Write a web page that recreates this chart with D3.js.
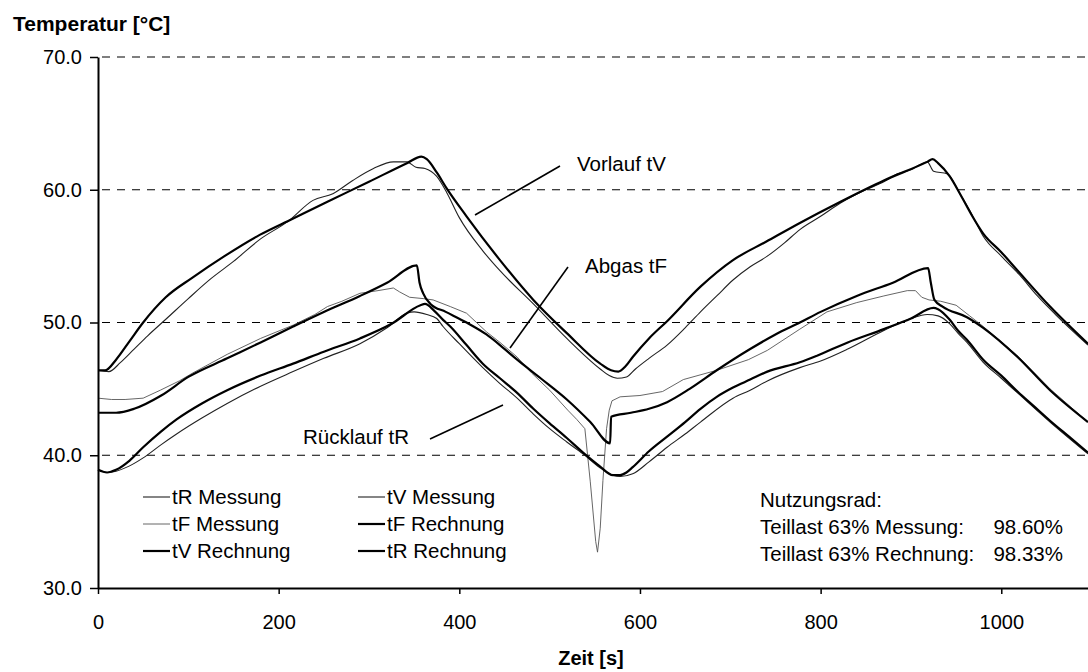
<!DOCTYPE html>
<meta charset="utf-8">
<style>
body { margin: 0; background: #fff; }
svg text { font-family: "Liberation Sans", Arial, sans-serif; fill: #000; }
.rech { fill: none; stroke: #000; stroke-width: 2.2px; stroke-linejoin: round; }
.mess { fill: none; stroke: #222; stroke-width: 1.1px; stroke-linejoin: round; }
.messF { fill: none; stroke: #555; stroke-width: 0.9px; stroke-linejoin: round; }
.grid { stroke: #000; stroke-width: 1.2px; stroke-dasharray: 8,7; }
</style>
<body>
<script src="https://cdnjs.cloudflare.com/ajax/libs/d3/7.8.5/d3.min.js"></script>
<script>
// axis ticks
var xTicks = [0, 200, 400, 600, 800, 1000];
var yTicks = [30, 40, 50, 60, 70];
var gridValues = [40, 50, 60, 70];

// [Zeit s, Temperatur °C]
var tvRechnung = [[0,46.4],[8,46.4],[20,47.2],[35,48.6],[50,50.0],[75,51.9],[105,53.4],[140,55.0],[179,56.6],[215,57.8],[254,59.1],[300,60.6],[342,62.0],[358,62.5],[364,62.3],[375,61.3],[386,60.1],[408,58.0],[445,54.7],[482,51.7],[519,49.2],[556,46.9],[568,46.4],[576,46.3],[584,46.7],[592,47.4],[610,48.8],[630,50.1],[667,52.7],[703,54.7],[740,56.1],[777,57.5],[822,59.1],[870,60.7],[918,62.1],[924,62.3],[930,62.0],[943,61.0],[955,59.6],[968,58.0],[980,56.7],[1000,55.3],[1017,54.0],[1054,51.2],[1096,48.4]];
var tvMessung = [[0,46.4],[12,46.3],[25,47.0],[40,48.0],[55,49.0],[76,50.3],[100,51.8],[125,53.3],[150,54.6],[180,56.3],[210,57.6],[238,59.2],[260,59.7],[282,60.7],[305,61.6],[327,62.1],[342,62.1],[352,61.7],[362,61.6],[375,61.0],[386,59.8],[400,57.9],[426,55.4],[445,53.9],[482,51.4],[519,48.8],[556,46.5],[566,46.0],[575,45.8],[585,45.9],[595,46.5],[610,47.3],[630,48.3],[650,49.6],[667,50.8],[685,52.0],[703,53.2],[722,54.2],[741,55.0],[760,56.0],[777,57.0],[800,58.0],[822,59.0],[850,60.0],[870,60.6],[885,61.2],[900,61.5],[910,61.9],[918,62.1],[925,61.4],[940,61.2],[955,59.6],[967,58.2],[980,56.5],[1000,55.0],[1020,53.6],[1040,52.0],[1060,50.6],[1096,48.3]];
var tfRechnung = [[0,43.2],[20,43.2],[40,43.5],[70,44.5],[100,45.9],[143,47.3],[180,48.5],[216,49.7],[250,50.8],[290,52.0],[320,53.0],[353,54.3],[356,53.0],[360,52.2],[368,51.4],[385,50.8],[408,50.0],[430,49.1],[445,48.3],[464,47.2],[490,45.8],[519,44.2],[545,42.5],[567,40.9],[568,42.9],[590,43.2],[610,43.5],[630,44.0],[655,45.0],[685,46.4],[722,48.0],[750,49.1],[777,50.0],[800,50.8],[840,52.0],[880,53.0],[919,54.1],[922,53.0],[926,51.7],[935,51.2],[962,50.4],[980,49.6],[1018,47.4],[1054,44.9],[1096,42.5]];
var tfMessung = [[0,44.3],[15,44.2],[30,44.2],[50,44.3],[69,44.9],[90,45.6],[105,46.2],[143,47.6],[180,48.8],[216,49.8],[240,50.6],[254,51.2],[270,51.6],[290,52.2],[310,52.4],[327,52.6],[334,52.3],[345,51.9],[360,51.8],[371,51.7],[390,51.2],[408,50.7],[430,49.3],[445,48.5],[464,47.4],[480,46.2],[500,44.9],[520,43.4],[530,42.7],[539,42.0],[545,38.0],[551,33.5],[553,32.7],[556,34.5],[559,38.1],[563,42.0],[566,43.4],[569,44.1],[578,44.4],[600,44.5],[625,44.8],[648,45.7],[685,46.4],[720,47.2],[741,47.9],[777,49.5],[807,50.8],[840,51.5],[870,52.0],[896,52.4],[905,52.4],[912,51.9],[920,51.7],[933,51.6],[950,51.3],[965,50.5],[980,49.7],[1018,47.5],[1054,45.0],[1096,42.5]];
var trRechnung = [[0,38.9],[10,38.7],[20,38.9],[35,39.6],[50,40.6],[70,41.8],[87,42.7],[115,43.9],[143,44.9],[180,46.0],[216,46.9],[250,47.8],[290,48.8],[325,49.9],[357,51.3],[362,51.4],[372,50.9],[382,50.2],[390,49.7],[408,48.3],[426,46.9],[445,45.8],[464,44.7],[482,43.5],[500,42.4],[519,41.3],[537,40.2],[555,39.2],[570,38.5],[578,38.5],[585,38.7],[592,39.1],[610,40.3],[630,41.4],[650,42.5],[667,43.5],[685,44.4],[703,45.1],[722,45.7],[741,46.3],[777,47.0],[796,47.5],[830,48.5],[870,49.5],[900,50.3],[925,51.1],[930,51.0],[943,50.2],[952,49.4],[962,48.7],[980,47.2],[1000,46.0],[1018,44.8],[1036,43.7],[1054,42.6],[1075,41.4],[1096,40.2]];
var trMessung = [[0,38.9],[10,38.7],[20,38.8],[35,39.2],[50,39.8],[70,40.8],[87,41.6],[115,42.8],[143,43.9],[180,45.2],[216,46.3],[250,47.3],[290,48.4],[320,49.6],[342,50.7],[350,50.8],[364,50.6],[375,50.3],[382,49.7],[400,48.4],[426,46.6],[445,45.4],[464,44.3],[482,43.1],[500,42.0],[519,41.0],[537,40.1],[555,39.1],[570,38.5],[578,38.4],[592,38.6],[610,39.5],[630,40.6],[650,41.6],[667,42.5],[703,44.3],[722,44.9],[741,45.6],[777,46.6],[800,47.1],[830,48.0],[870,49.4],[900,50.3],[918,50.6],[930,50.5],[943,49.9],[952,49.2],[962,48.5],[980,47.0],[1000,45.8],[1018,44.7],[1054,42.5],[1096,40.1]];

// legend entries: label, style class
var legendItems = [
  ["tR Messung", "mess"], ["tV Messung", "mess"],
  ["tF Messung", "messF"], ["tF Rechnung", "rech"],
  ["tV Rechnung", "rech"], ["tR Rechnung", "rech"]
];
var nutzLabels = ["Nutzungsrad:", "Teillast 63% Messung:", "Teillast 63% Rechnung:"];
var nutzValues = ["", "98.60%", "98.33%"];

var width = 1088, height = 672;
var svg = d3.select("body").append("svg")
    .attr("width", width)
    .attr("height", height);

var x = d3.scaleLinear().domain([0, 1096]).range([98, 1088]);
var y = d3.scaleLinear().domain([30, 70]).range([588, 57]);

// dashed grid lines
svg.selectAll(".grid")
    .data(gridValues)
  .enter().append("line")
    .attr("class", "grid")
    .attr("x1", x(0) + 4).attr("x2", width)
    .attr("y1", function(d) { return y(d); })
    .attr("y2", function(d) { return y(d); });

// curves
var line = d3.line()
    .x(function(d) { return x(d[0]); })
    .y(function(d) { return y(d[1]); });
var smooth = d3.line()
    .curve(d3.curveMonotoneX)
    .x(function(d) { return x(d[0]); })
    .y(function(d) { return y(d[1]); });

svg.append("path").datum(tfMessung).attr("class", "messF").attr("d", line);
svg.append("path").datum(trMessung).attr("class", "mess").attr("d", smooth);
svg.append("path").datum(tvMessung).attr("class", "mess").attr("d", smooth);
svg.append("path").datum(trRechnung).attr("class", "rech").attr("d", smooth);
svg.append("path").datum(tfRechnung).attr("class", "rech").attr("d", smooth);
svg.append("path").datum(tvRechnung).attr("class", "rech").attr("d", smooth);

// axes
var yAxis = svg.append("g")
    .attr("transform", "translate(" + x(0) + ",0)")
    .call(d3.axisLeft(y).tickValues(yTicks).tickFormat(d3.format(".1f"))
      .tickSize(8).tickPadding(8).tickSizeOuter(0));
var xAxis = svg.append("g")
    .attr("transform", "translate(0," + y(30) + ")")
    .call(d3.axisBottom(x).tickValues(xTicks).tickFormat(d3.format("d"))
      .tickSize(6).tickPadding(21).tickSizeOuter(0));
svg.selectAll(".domain").attr("stroke", "#000").attr("stroke-width", 2);
svg.selectAll(".tick line").attr("stroke", "#000").attr("stroke-width", 1.5);
svg.selectAll(".tick text").style("font-size", "20px")
    .style("font-family", "'Liberation Sans', Arial, sans-serif");

// axis titles
svg.append("text").attr("x", 13).attr("y", 31)
    .style("font-size", "21px").style("font-weight", "bold")
    .text("Temperatur [°C]");
svg.append("text").attr("x", 591).attr("y", 665)
    .attr("text-anchor", "middle")
    .style("font-size", "20px").style("font-weight", "bold")
    .text("Zeit [s]");

// annotations with leader lines
var notes = [
  {t: "Vorlauf tV", tx: 577, ty: 171, x1: 475, y1: 215, x2: 560, y2: 166},
  {t: "Abgas tF", tx: 585, ty: 273, x1: 510, y1: 348, x2: 568, y2: 267},
  {t: "Rücklauf tR", tx: 303, ty: 444, x1: 430, y1: 439, x2: 503, y2: 405}
];
notes.forEach(function(n) {
  svg.append("line").attr("x1", n.x1).attr("y1", n.y1).attr("x2", n.x2).attr("y2", n.y2)
      .attr("stroke", "#000").attr("stroke-width", 1.6);
  svg.append("text").attr("x", n.tx).attr("y", n.ty)
      .style("font-size", "20.5px").text(n.t);
});

// legend
var leg = svg.append("g");
legendItems.forEach(function(d, i) {
  var col = i % 2, row = Math.floor(i / 2);
  var lx = col === 0 ? 143 : 358;
  var by = 504 + row * 27;
  leg.append("line").attr("class", d[1])
      .attr("x1", lx).attr("x2", lx + 27)
      .attr("y1", by - 7).attr("y2", by - 7);
  leg.append("text").attr("x", lx + 29).attr("y", by)
      .style("font-size", "20.5px").text(d[0]);
});

// Nutzungsrad block
nutzLabels.forEach(function(d, i) {
  svg.append("text").attr("x", 760).attr("y", 507 + i * 27)
      .style("font-size", "20.5px").text(d);
  if (nutzValues[i])
    svg.append("text").attr("x", 1063).attr("y", 507 + i * 27)
        .attr("text-anchor", "end")
        .style("font-size", "20.5px").text(nutzValues[i]);
});
</script>
</body>
